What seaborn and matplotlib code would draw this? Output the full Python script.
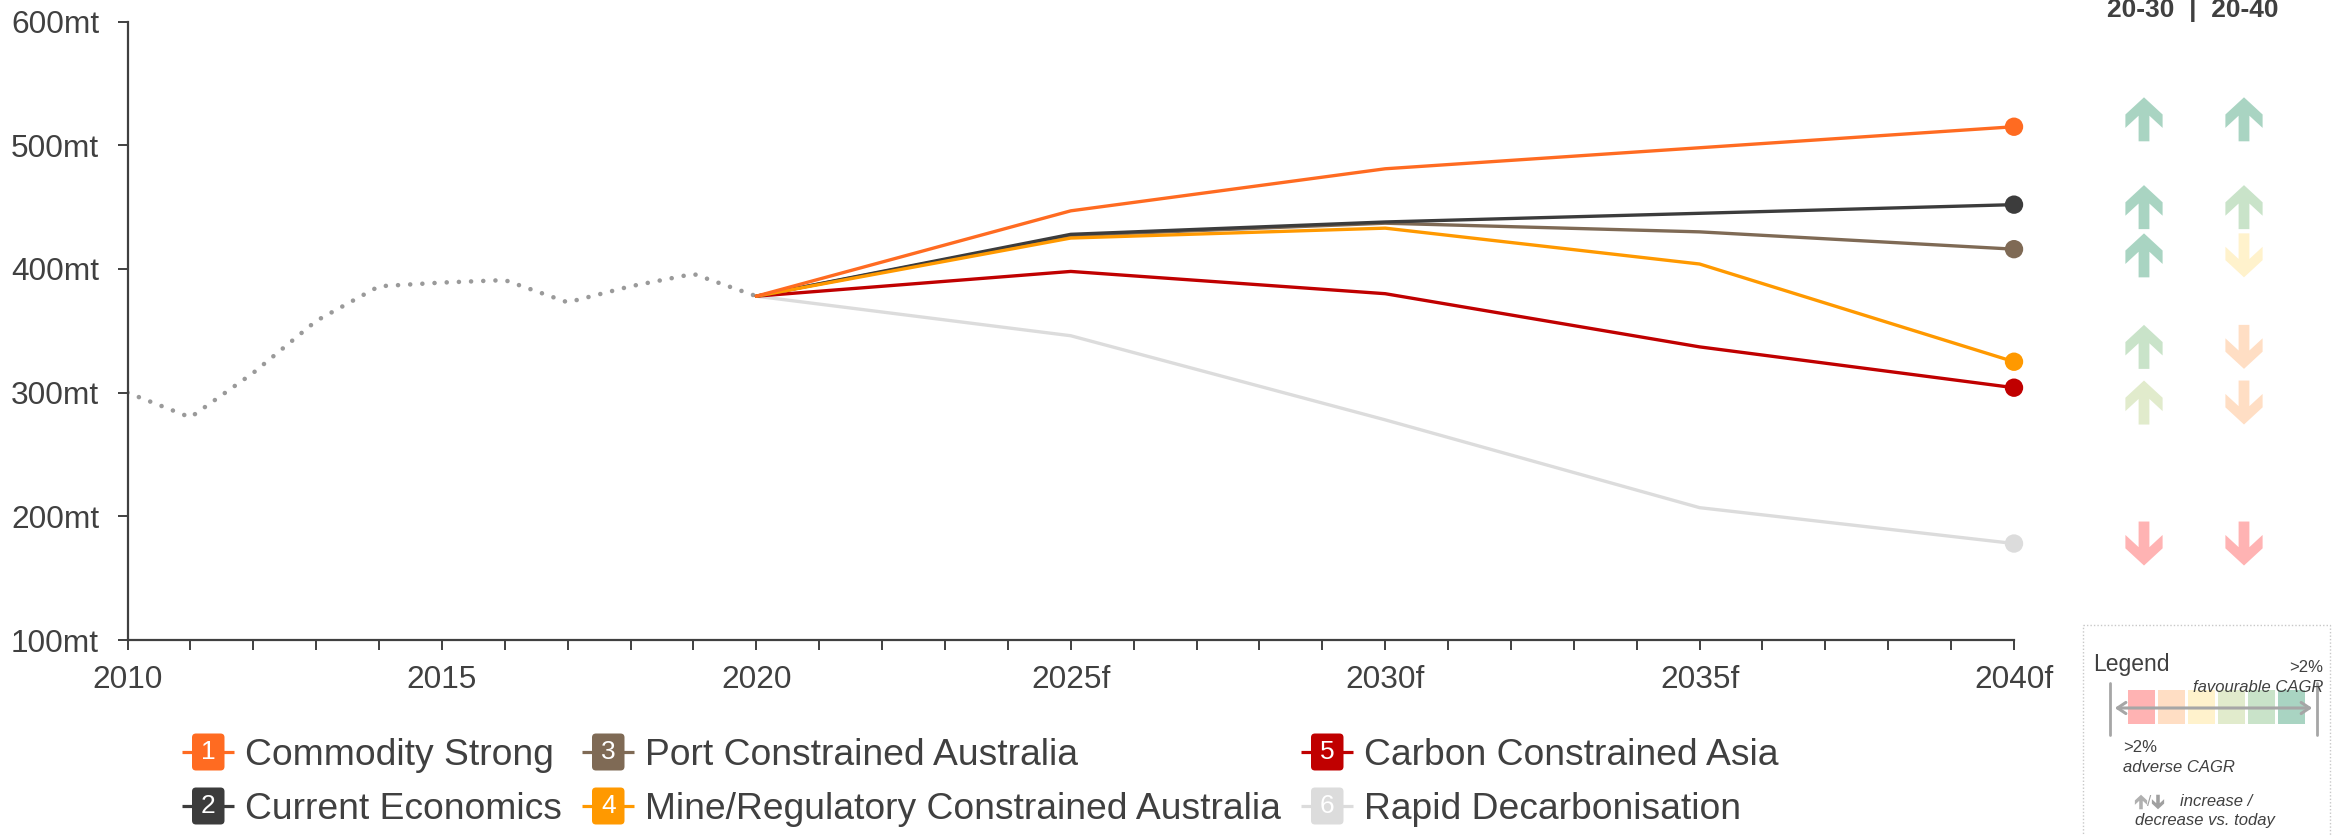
import numpy as np
import pandas as pd
import matplotlib
matplotlib.use("Agg")
import matplotlib.pyplot as plt
import seaborn as sns
from matplotlib.patches import Polygon, Rectangle, FancyBboxPatch, FancyArrowPatch

# ---------------- data ----------------
hist_years = [2010, 2011, 2012, 2013, 2014, 2015, 2016, 2017, 2018, 2019, 2020]
hist_values = [300, 280, 316, 358, 386, 389, 391, 373, 386, 396, 378]

fc_years = [2020, 2025, 2030, 2035, 2040]
commodity_strong = [378, 447, 481, 498, 515]
current_economics = [378, 428, 438, 445, 452]
port_constrained = [378, 427, 437, 430, 416]
mine_regulatory = [378, 425, 433, 404, 325]
carbon_constrained = [378, 398, 380, 337, 304]
rapid_decarb = [378, 346, 278, 207, 178]

scenario_names = ["Commodity Strong", "Current Economics", "Port Constrained Australia",
                  "Mine/Regulatory Constrained Australia", "Carbon Constrained Asia",
                  "Rapid Decarbonisation"]
scenario_values = [commodity_strong, current_economics, port_constrained,
                   mine_regulatory, carbon_constrained, rapid_decarb]
scenario_colors = ["#ff6b21", "#3c3c3c", "#7f6a55", "#ff9900", "#c00000", "#dcdcdc"]
draw_order = ["Rapid Decarbonisation", "Carbon Constrained Asia", "Port Constrained Australia",
              "Current Economics", "Mine/Regulatory Constrained Australia", "Commodity Strong"]

y_ticks = [100, 200, 300, 400, 500, 600]
x_label_years = [2010, 2015, 2020, 2025, 2030, 2035, 2040]

# CAGR indicator columns (20-30 | 20-40): direction and colour class (0=adverse .. 5=favourable)
arrow_rows = [521, 450, 411, 337, 292, 178]   # label positions on the value scale
dir_2030 = ["up", "up", "up", "up", "up", "down"]
cls_2030 = [5, 5, 5, 4, 3, 0]
dir_2040 = ["up", "up", "down", "down", "down", "down"]
cls_2040 = [5, 4, 2, 1, 1, 0]
cagr_palette = ["#ffb3b3", "#ffdec4", "#fff2cc", "#e1ebcc", "#c9e3c9", "#a9d4c2"]

# ---------------- style ----------------
sns.set_style("ticks")
plt.rcParams['font.family'] = ['Liberation Sans', 'DejaVu Sans']
TXT = "#404040"

W, H = 2346, 836
fig = plt.figure(figsize=(W / 100, H / 100), dpi=100)
fig.patch.set_facecolor("white")

ax_l, ax_r, ax_t, ax_b = 127.5, 2014.0, 21.6, 640.0
ax = fig.add_axes([ax_l / W, 1 - ax_b / H, (ax_r - ax_l) / W, (ax_b - ax_t) / H])

# historical dotted line
sns.lineplot(x=hist_years, y=hist_values, ax=ax, color="#9a9a9a", lw=3.3)
hl = ax.lines[-1]
hl.set_dashes([0.01, 2.65])
hl.set_dash_capstyle("round")

# forecast scenarios
rows = []
for name, vals in zip(scenario_names, scenario_values):
    for yr, v in zip(fc_years, vals):
        rows.append({"year": yr, "value": v, "scenario": name})
df = pd.DataFrame(rows)
pal = dict(zip(scenario_names, scenario_colors))
sns.lineplot(data=df, x="year", y="value", hue="scenario", hue_order=draw_order,
             palette=pal, lw=2.4, legend=False, ax=ax)
end = df[df["year"] == fc_years[-1]]
sns.scatterplot(data=end, x="year", y="value", hue="scenario", hue_order=draw_order,
                palette=pal, s=175, edgecolor="none", linewidth=0, legend=False,
                ax=ax, clip_on=False, zorder=5)

ax.set_xlim(2010, 2040)
ax.set_ylim(100, 600)
ax.set_xticks(list(range(2010, 2041)))
ax.set_xticklabels([(str(y) if y <= 2020 else f"{y}f") if y in x_label_years else ""
                    for y in range(2010, 2041)])
ax.set_yticks(y_ticks)
ax.set_yticklabels([f"{v}mt" for v in y_ticks])
ax.set_xlabel("")
ax.set_ylabel("")
sns.despine(ax=ax)
for s in ["left", "bottom"]:
    ax.spines[s].set_color(TXT)
    ax.spines[s].set_linewidth(1.6)
ax.tick_params(axis="both", length=7, width=1.4, color=TXT, labelcolor=TXT, labelsize=22.8)
ax.tick_params(axis="x", pad=11)
ax.tick_params(axis="y", pad=13.5)

# ---------------- overlay in pixel coordinates ----------------
ov = fig.add_axes([0, 0, 1, 1])
ov.set_xlim(0, W)
ov.set_ylim(H, 0)
ov.axis("off")


def arrow(cx, cy, up, color, s=1.0):
    pts = [(0, -22), (18.6, -4.8), (18.6, 8.6), (5.4, -3.6), (5.4, 22),
           (-5.4, 22), (-5.4, -3.6), (-18.6, 8.6), (-18.6, -4.8)]
    sign = 1 if up else -1
    poly = [(cx + x * s, cy + sign * y * s) for x, y in pts]
    ov.add_patch(Polygon(poly, closed=True, facecolor=color, edgecolor="none"))


fig.canvas.draw()


def val_to_px(v):
    d = ax.transData.transform((2040, v))
    return H - d[1]


col_x = [2144, 2244]
for i, v in enumerate(arrow_rows):
    cy = val_to_px(v)
    arrow(col_x[0], cy, dir_2030[i] == "up", cagr_palette[cls_2030[i]])
    arrow(col_x[1], cy, dir_2040[i] == "up", cagr_palette[cls_2040[i]])

ov.text(2193, 17, "20-30  |  20-40", ha="center", va="baseline", fontsize=19,
        fontweight="bold", color=TXT)

# CAGR legend box
ov.add_patch(Rectangle((2083, 625), 247, 240, facecolor="none", edgecolor="#c8c8c8",
                       lw=1.0, linestyle=(0, (1, 1.5))))
ov.text(2093, 665, "Legend", ha="left", va="center", fontsize=16.5, color=TXT)
ov.text(2323, 667, ">2%", ha="right", va="center", fontsize=12, color=TXT)
ov.text(2323, 687, "favourable CAGR", ha="right", va="center", fontsize=12,
        style="italic", color=TXT)
sq_w, gap = 27, 3
for i, c in enumerate(cagr_palette):
    ov.add_patch(Rectangle((2128 + i * (sq_w + gap), 690), sq_w, 34, facecolor=c,
                           edgecolor="none"))
ov.plot([2110, 2110], [683, 735], color="#a6a6a6", lw=2)
ov.plot([2317, 2317], [683, 735], color="#a6a6a6", lw=2)
ov.add_patch(FancyArrowPatch((2112, 708), (2315, 708),
                             arrowstyle="<->,head_length=6,head_width=4",
                             color="#a6a6a6", lw=2.2, mutation_scale=1))
ov.text(2123, 747, ">2%", ha="left", va="center", fontsize=12, color=TXT)
ov.text(2123, 767, "adverse CAGR", ha="left", va="center", fontsize=12,
        style="italic", color=TXT)
arrow(2141, 802, True, "#b0b0b0", s=0.33)
ov.text(2149.5, 802, "/", ha="center", va="center", fontsize=11, color="#a0a0a0")
arrow(2158, 802, False, "#a0a0a0", s=0.33)
ov.text(2180, 802, "increase /", ha="left", va="center", fontsize=12,
        style="italic", color=TXT)
ov.text(2135, 820, "decrease vs. today", ha="left", va="center", fontsize=12,
        style="italic", color=TXT)

# scenario legend
leg_cols = [182, 582, 1301]
leg_rows = [752, 806]
leg_layout = [(0, 0), (0, 1), (1, 0), (1, 1), (2, 0), (2, 1)]
for k, (name, color) in enumerate(zip(scenario_names, scenario_colors)):
    ci, ri = leg_layout[k]
    x0, yc = leg_cols[ci], leg_rows[ri]
    ov.plot([x0, x0 + 52], [yc, yc], color=color, lw=2.3, solid_capstyle="butt")
    ov.add_patch(FancyBboxPatch((x0 + 10, yc - 18.5), 32.5, 37,
                                boxstyle="round,pad=0,rounding_size=4",
                                facecolor=color, edgecolor="none"))
    ov.text(x0 + 26.3, yc + 6.8, str(k + 1), ha="center", va="baseline",
            fontsize=19, color="white")
    ov.text(x0 + 63, yc + 13, name, ha="left", va="baseline", fontsize=26.8, color=TXT)

fig.savefig("out.png", dpi=100, facecolor="white")
